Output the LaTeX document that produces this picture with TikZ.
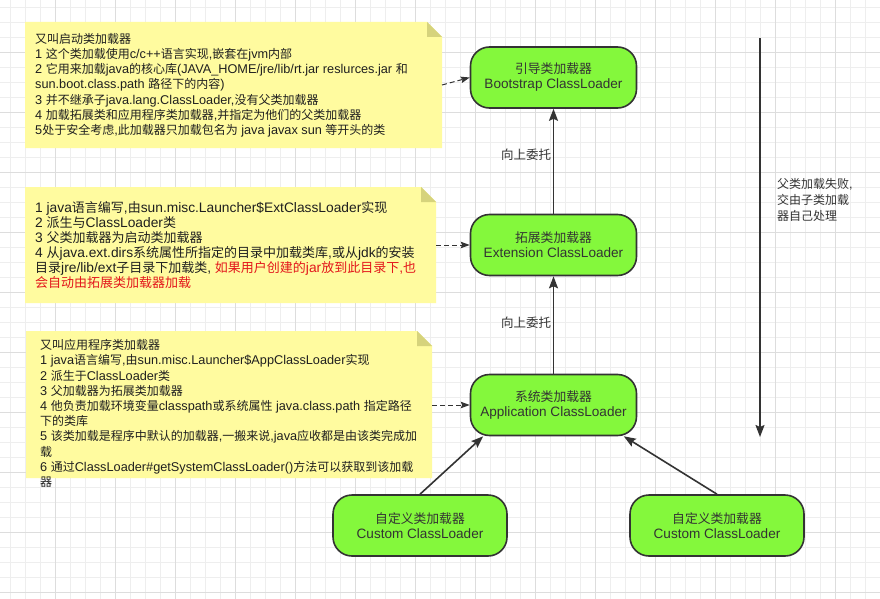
\documentclass[tikz,border=0pt]{standalone}
\usepackage{fontspec}
\setmainfont{Liberation Sans}[Scale=1.06]
\newfontfamily\cjk{Noto Sans CJK SC}
% CJK characters switch to the CJK font automatically
\XeTeXinterchartokenstate=1
\newXeTeXintercharclass\cjkcls
\count255="4E00
\loop\XeTeXcharclass\count255=\cjkcls\advance\count255 by 1 \ifnum\count255<"A000 \repeat
\count255="3000
\loop\XeTeXcharclass\count255=\cjkcls\advance\count255 by 1 \ifnum\count255<"3040 \repeat
\count255="FF00
\loop\XeTeXcharclass\count255=\cjkcls\advance\count255 by 1 \ifnum\count255<"FFF0 \repeat
\XeTeXinterchartoks 0 \cjkcls = {\cjk}
\XeTeXinterchartoks 4095 \cjkcls = {\cjk}
\XeTeXinterchartoks \cjkcls 0 = {\rmfamily}
\XeTeXinterchartoks \cjkcls 4095 = {\rmfamily}
\usepackage{tikz}
\usetikzlibrary{arrows.meta}
\definecolor{lgreen}{HTML}{84F83C}
\definecolor{nyellow}{HTML}{FFFB9F}
\definecolor{nfold}{HTML}{D6D37C}
\definecolor{dgray}{HTML}{333333}
\definecolor{gminor}{HTML}{EEEEEE}
\definecolor{gmajor}{HTML}{DDDDDD}
\definecolor{tred}{HTML}{E3161B}

\begin{document}
\begin{tikzpicture}[x=1pt,y=-1pt,
  loader/.style={draw=dgray, line width=1.6pt, fill=lgreen, rounded corners=19pt,
    minimum width=166pt, minimum height=61pt, align=center, text=dgray,
    font=\fontsize{12.8}{15}\selectfont},
  notetext/.style={anchor=base west, align=left, inner sep=0pt, text=black!88,
    font=\fontsize{12}{15.2}\selectfont},
  flow/.style={draw=dgray, line width=1.6pt, -{Stealth[length=12pt,width=9pt,inset=2pt]}},
  hint/.style={draw=dgray, line width=1pt, dash pattern=on 5pt off 3pt,
    -{Stealth[length=9pt,width=6.5pt,inset=1.5pt]}}]

  \useasboundingbox (0,0) rectangle (880,599);
  \fill[white] (0,0) rectangle (880,599);

  % grid
  \foreach \i in {0,...,57} \draw[gminor, line width=0.7pt] (10+15*\i,0) -- (10+15*\i,599);
  \foreach \j in {0,...,39} \draw[gminor, line width=0.7pt] (0,7+15*\j) -- (880,7+15*\j);
  \foreach \i in {0,...,13} \draw[gmajor, line width=0.8pt] (55+60*\i,0) -- (55+60*\i,599);
  \foreach \j in {0,...,9} \draw[gmajor, line width=0.8pt] (0,52+60*\j) -- (880,52+60*\j);

  % notes
  \fill[nyellow] (25,22) -- (427,22) -- (442,37) |- (25,148) -- cycle;
  \fill[nfold] (427,22) -- (442,37) -- (427,37) -- cycle;
  \fill[nyellow] (25,187) -- (421,187) -- (436,202) |- (25,303) -- cycle;
  \fill[nfold] (421,187) -- (436,202) -- (421,202) -- cycle;
  \fill[nyellow] (26,331) -- (417,331) -- (432,346) |- (26,478) -- cycle;
  \fill[nfold] (417,331) -- (432,346) -- (417,346) -- cycle;
  \coordinate (n1) at (442,85);
  \coordinate (n2) at (436,245);
  \coordinate (n3) at (432,405);

  % text anchored at the baseline of its last line
  \node[notetext] (t1) at (35,134.5) {又叫启动类加载器\\
    1 这个类加载使用c/c++语言实现,嵌套在jvm内部\\
    2 它用来加载java的核心库(JAVA\_HOME/jre/lib/rt.jar reslurces.jar 和\\
    sun.boot.class.path 路径下的内容)\\
    3 并不继承子java.lang.ClassLoader,没有父类加载器\\
    4 加载拓展类和应用程序类加载器,并指定为他们的父类加载器\\
    5处于安全考虑,此加载器只加载包名为 java javax sun 等开头的类};
  \node[notetext, font=\fontsize{13}{15}\selectfont] (t2) at (35,287) {1 java语言编写,由sun.misc.Launcher\$ExtClassLoader实现\\
    2 派生与ClassLoader类\\
    3 父类加载器为启动类加载器\\
    4 从java.ext.dirs系统属性所指定的目录中加载类库,或从jdk的安装\\
    目录jre/lib/ext子目录下加载类, \textcolor{tred}{如果用户创建的jar放到此目录下,也}\\
    \textcolor{tred}{会自动由拓展类加载器加载}};
  \node[notetext] (t3) at (40,486.5) {又叫应用程序类加载器\\
    1 java语言编写,由sun.misc.Launcher\$AppClassLoader实现\\
    2 派生于ClassLoader类\\
    3 父加载器为拓展类加载器\\
    4 他负责加载环境变量classpath或系统属性 java.class.path 指定路径\\
    下的类库\\
    5 该类加载是程序中默认的加载器,一搬来说,java应收都是由该类完成加\\
    载\\
    6 通过ClassLoader\#getSystemClassLoader()方法可以获取到该加载\\
    器};

  % loaders
  \node[loader] (boot) at (553.5,77.5) {引导类加载器\\Bootstrap ClassLoader};
  \node[loader] (ext) at (553.5,245) {拓展类加载器\\Extension ClassLoader};
  \node[loader] (app) at (553.5,405) {系统类加载器\\Application ClassLoader};
  \node[loader, minimum width=174pt] (cust1) at (420,525.5) {自定义类加载器\\Custom ClassLoader};
  \node[loader, minimum width=174pt] (cust2) at (717,525.5) {自定义类加载器\\Custom ClassLoader};

  \draw[flow] (ext) -- (boot);
  \draw[flow] (app) -- (ext);
  \draw[flow] (cust1.north) -- (app.-156);
  \draw[flow] (cust2.north) -- (app.-24);
  \node[text=dgray, font=\fontsize{12.5}{15}\selectfont] (up1) at (526,155) {向上委托};
  \node[text=dgray, font=\fontsize{12.5}{15}\selectfont] (up2) at (526,323) {向上委托};

  \draw[hint] (n1) -- (boot.west);
  \draw[hint] (n2) -- (ext.west);
  \draw[hint] (n3) -- (app.west);

  % parent fails
  \coordinate (fa) at (760,38);
  \coordinate (fb) at (760,437);
  \draw[flow] (fa) -- (fb);
  \node[notetext, text=dgray, font=\fontsize{12}{16}\selectfont] (fail) at (777,220.5) {父类加载失败,\\交由子类加载\\器自己处理};

\end{tikzpicture}
\end{document}
